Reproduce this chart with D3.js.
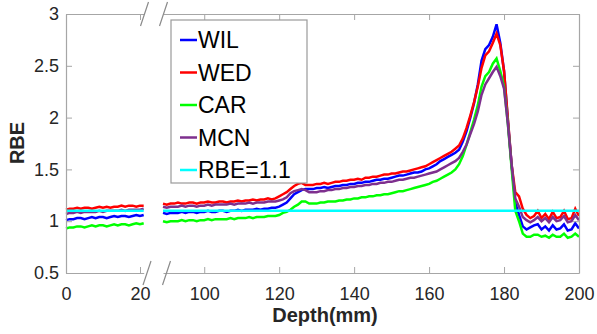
<!DOCTYPE html>
<html>
<head>
<meta charset="utf-8">
<script src="https://cdn.jsdelivr.net/npm/d3@7"></script>
<style>
  body { margin: 0; background: #fff; }
  svg { display: block; font-family: "Liberation Sans", Arial, sans-serif; }
</style>
</head>
<body>
<svg width="597" height="334"></svg>
<script>
// depth (mm) of the two pieces of the broken x axis
const depthLeft = d3.range(0, 22);     // 0..21
const depthRight = d3.range(89, 201);  // 89..200

// RBE values, left piece (0..21 mm)
const wilLeft = [1.01,1.02,1.02,1.03,1.03,1.02,1.03,1.04,1.03,1.04,1.04,1.03,1.04,1.05,1.04,1.05,1.05,1.04,1.05,1.06,1.05,1.06];
const wedLeft = [1.11,1.12,1.12,1.13,1.12,1.13,1.13,1.12,1.13,1.14,1.13,1.14,1.13,1.14,1.14,1.15,1.14,1.15,1.15,1.14,1.15,1.15];
const carLeft = [0.93,0.94,0.94,0.95,0.95,0.94,0.95,0.96,0.95,0.96,0.96,0.95,0.96,0.97,0.96,0.97,0.97,0.96,0.97,0.98,0.97,0.98];
const mcnLeft = [1.07,1.08,1.08,1.09,1.08,1.09,1.09,1.09,1.09,1.10,1.09,1.10,1.10,1.10,1.10,1.11,1.10,1.11,1.11,1.11,1.11,1.12];

// right piece (89..200 mm)
const wilRight = [
  1.08,1.07,1.08,1.08,1.08,1.09,1.08,1.09,1.09,1.08,
  1.09,1.09,1.10,1.09,1.09,1.10,1.10,1.09,1.10,1.10,
  1.11,1.10,1.11,1.11,1.11,1.12,1.11,1.12,1.12,1.13,
  1.13,1.14,1.16,1.18,1.22,1.26,1.28,1.30,1.31,1.31,
  1.31,1.32,1.32,1.33,1.32,1.33,1.34,1.34,1.35,1.35,
  1.36,1.36,1.37,1.37,1.38,1.38,1.39,1.40,1.40,1.41,
  1.41,1.42,1.43,1.44,1.44,1.45,1.46,1.47,1.47,1.48,
  1.50,1.51,1.53,1.55,1.58,1.60,1.62,1.64,1.66,1.69,
  1.77,1.87,2.00,2.14,2.32,2.55,2.66,2.70,2.78,2.90,
  2.72,2.45,1.98,1.55,1.18,1.06,0.95,0.92,0.94,0.96,
  0.97,0.92,0.95,0.91,0.96,0.92,0.93,0.97,0.91,0.92,
  0.98,0.93];
const wedRight = [
  1.17,1.16,1.17,1.17,1.18,1.17,1.17,1.18,1.18,1.17,
  1.18,1.18,1.19,1.18,1.18,1.19,1.19,1.18,1.19,1.19,
  1.20,1.19,1.20,1.20,1.21,1.20,1.21,1.21,1.22,1.21,
  1.22,1.24,1.26,1.28,1.31,1.34,1.36,1.37,1.35,1.35,
  1.35,1.36,1.36,1.37,1.36,1.37,1.38,1.38,1.39,1.39,
  1.40,1.40,1.41,1.40,1.42,1.42,1.43,1.43,1.44,1.45,
  1.45,1.46,1.46,1.47,1.48,1.48,1.49,1.50,1.51,1.52,
  1.53,1.55,1.57,1.59,1.61,1.63,1.65,1.67,1.70,1.73,
  1.80,1.90,2.02,2.15,2.30,2.48,2.60,2.64,2.72,2.81,
  2.70,2.45,2.00,1.55,1.28,1.24,1.12,1.06,1.03,1.05,
  1.10,1.03,1.07,1.02,1.09,1.03,1.04,1.10,1.02,1.03,
  1.12,1.05];
const carRight = [
  1.00,0.99,1.00,1.00,1.00,1.01,1.00,1.01,1.01,1.00,
  1.01,1.01,1.02,1.01,1.02,1.02,1.02,1.02,1.03,1.02,
  1.03,1.03,1.03,1.04,1.03,1.04,1.04,1.04,1.05,1.05,
  1.05,1.06,1.08,1.09,1.11,1.14,1.16,1.19,1.19,1.17,
  1.17,1.17,1.18,1.18,1.19,1.19,1.19,1.20,1.20,1.21,
  1.21,1.22,1.22,1.23,1.23,1.24,1.24,1.25,1.25,1.26,
  1.26,1.27,1.28,1.29,1.29,1.30,1.31,1.32,1.33,1.34,
  1.35,1.36,1.38,1.39,1.41,1.43,1.45,1.47,1.50,1.55,
  1.63,1.74,1.86,1.98,2.12,2.30,2.40,2.44,2.52,2.57,
  2.45,2.30,1.95,1.52,1.10,1.00,0.88,0.85,0.85,0.87,
  0.87,0.85,0.86,0.84,0.87,0.85,0.85,0.88,0.84,0.85,
  0.88,0.85];
const mcnRight = [
  1.14,1.13,1.14,1.14,1.14,1.15,1.14,1.15,1.15,1.14,
  1.15,1.15,1.16,1.15,1.16,1.16,1.16,1.16,1.17,1.16,
  1.17,1.17,1.17,1.18,1.17,1.18,1.18,1.18,1.19,1.19,
  1.19,1.20,1.21,1.23,1.27,1.29,1.30,1.31,1.30,1.28,
  1.28,1.28,1.29,1.29,1.30,1.30,1.31,1.31,1.32,1.32,
  1.33,1.33,1.34,1.34,1.35,1.35,1.36,1.36,1.37,1.37,
  1.38,1.38,1.39,1.40,1.40,1.41,1.42,1.42,1.43,1.44,
  1.45,1.46,1.47,1.48,1.50,1.52,1.54,1.56,1.58,1.61,
  1.67,1.74,1.84,1.94,2.06,2.22,2.32,2.38,2.44,2.49,
  2.40,2.28,1.95,1.55,1.22,1.14,1.04,1.01,0.99,1.01,
  1.04,1.00,1.03,0.99,1.04,1.00,1.01,1.05,0.99,1.00,
  1.06,1.01];

const rbeRef = 1.1;

const seriesNames = ['WIL', 'WED', 'CAR', 'MCN', 'RBE=1.1'];
const seriesColors = ['#0000ff', '#ff0000', '#00ff00', '#7e2f8e', '#00ffff'];

const xTicksLeft = [0, 20];
const xTicksRight = [100, 120, 140, 160, 180, 200];
const yTicks = [0.5, 1, 1.5, 2, 2.5, 3];

const svg = d3.select('svg');
const axisColor = '#a6a6a6';
const textColor = '#262626';

const plotTop = 14, plotBottom = 273, plotLeft = 66, plotRight = 579;

const xL = d3.scaleLinear().domain([0, 21]).range([plotLeft, 143.7]);
const xR = d3.scaleLinear().domain([89, 200]).range([163, plotRight]);
const y = d3.scaleLinear().domain([0.5, 3]).range([plotBottom, plotTop]);

// lines
const lineL = d3.line().x(d => xL(d[0])).y(d => y(d[1]));
const lineR = d3.line().x(d => xR(d[0])).y(d => y(d[1]));

const leftData = [wilLeft, wedLeft, carLeft, mcnLeft, depthLeft.map(() => rbeRef)];
const rightData = [wilRight, wedRight, carRight, mcnRight, depthRight.map(() => rbeRef)];

const gLines = svg.append('g');
seriesNames.forEach((name, i) => {
    gLines.append('path')
        .attr('d', lineL(depthLeft.map((d, j) => [d, leftData[i][j]])))
        .attr('fill', 'none')
        .attr('stroke', seriesColors[i])
        .attr('stroke-width', 2.5);
    gLines.append('path')
        .attr('d', lineR(depthRight.map((d, j) => [d, rightData[i][j]])))
        .attr('fill', 'none')
        .attr('stroke', seriesColors[i])
        .attr('stroke-width', 2.5);
});

// axes (ticks pointing inward, matlab style)
function styleAxis(g) {
    g.select('.domain').attr('stroke', axisColor).attr('stroke-width', 1.2);
    g.selectAll('.tick line').attr('stroke', axisColor).attr('stroke-width', 1);
    g.selectAll('.tick text').attr('fill', textColor).attr('font-size', 18)
        .attr('font-family', '"Liberation Sans", Arial, sans-serif');
}

svg.append('g').attr('transform', `translate(0,${plotBottom})`)
    .call(d3.axisBottom(xL).tickValues(xTicksLeft).tickSizeInner(-6).tickSizeOuter(0).tickPadding(14))
    .call(styleAxis);
svg.append('g').attr('transform', `translate(0,${plotBottom})`)
    .call(d3.axisBottom(xR).tickValues(xTicksRight).tickSizeInner(-6).tickSizeOuter(0).tickPadding(14))
    .call(styleAxis);
svg.append('g').attr('transform', `translate(0,${plotTop})`)
    .call(d3.axisTop(xL).tickValues(xTicksLeft).tickSizeInner(-6).tickSizeOuter(0).tickFormat(''))
    .call(styleAxis);
svg.append('g').attr('transform', `translate(0,${plotTop})`)
    .call(d3.axisTop(xR).tickValues(xTicksRight).tickSizeInner(-6).tickSizeOuter(0).tickFormat(''))
    .call(styleAxis);
svg.append('g').attr('transform', `translate(${plotLeft},0)`)
    .call(d3.axisLeft(y).tickValues(yTicks).tickSizeInner(-6).tickSizeOuter(0).tickPadding(7).tickFormat(d3.format('')))
    .call(styleAxis);
svg.append('g').attr('transform', `translate(${plotRight},0)`)
    .call(d3.axisRight(y).tickValues(yTicks).tickSizeInner(-6).tickSizeOuter(0).tickFormat(''))
    .call(styleAxis);

// break marks
const breaks = [[144.5, plotTop], [163.5, plotTop], [147, plotBottom], [166.5, plotBottom]];
svg.append('g').selectAll('line').data(breaks).enter().append('line')
    .attr('x1', d => d[0] + 4).attr('y1', d => d[1] - 12)
    .attr('x2', d => d[0] - 4).attr('y2', d => d[1] + 12)
    .attr('stroke', '#8a8a8a').attr('stroke-width', 1.2);

// axis labels
svg.append('text')
    .attr('x', 325).attr('y', 322)
    .attr('text-anchor', 'middle')
    .attr('font-size', 20).attr('font-weight', 'bold').attr('fill', textColor)
    .text('Depth(mm)');
svg.append('text')
    .attr('transform', 'translate(24,143) rotate(-90)')
    .attr('text-anchor', 'middle')
    .attr('font-size', 20).attr('font-weight', 'bold').attr('fill', textColor)
    .text('RBE');

// legend
const legend = svg.append('g');
legend.append('rect')
    .attr('x', 171).attr('y', 20).attr('width', 136).attr('height', 163)
    .attr('fill', '#fff').attr('stroke', '#9a9a9a').attr('stroke-width', 1.2);
const legendY = d3.scalePoint().domain(seriesNames).range([40, 170]);
seriesNames.forEach((name, i) => {
    legend.append('line')
        .attr('x1', 180).attr('x2', 197)
        .attr('y1', legendY(name)).attr('y2', legendY(name))
        .attr('stroke', seriesColors[i]).attr('stroke-width', 2.5);
    legend.append('text')
        .attr('x', 198).attr('y', legendY(name))
        .attr('dy', '0.36em')
        .attr('font-size', 23).attr('fill', '#000')
        .text(name);
});
</script>
</body>
</html>
